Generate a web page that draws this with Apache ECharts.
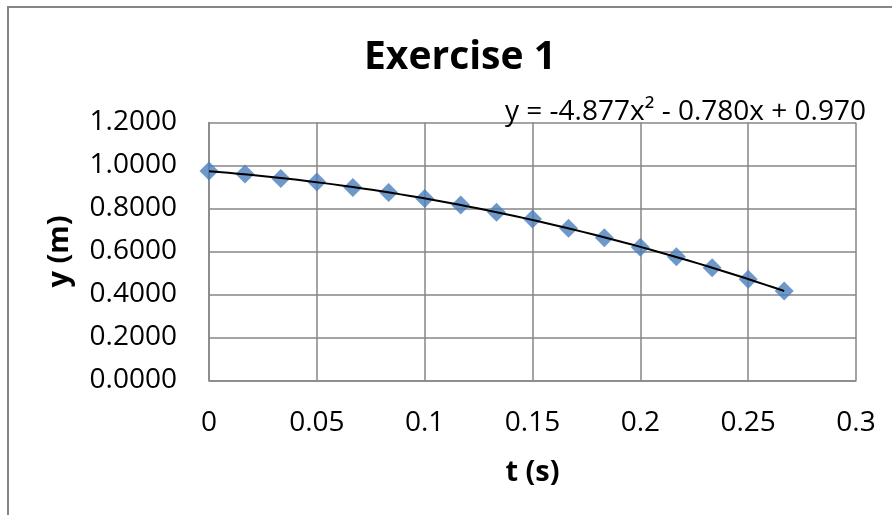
<!DOCTYPE html>
<html>
<head>
<meta charset="utf-8">
<script src="https://cdn.jsdelivr.net/npm/echarts@6/dist/echarts.min.js"></script>
<style>
html,body{margin:0;padding:0;background:#fff;}
#c{width:892px;height:515px;}
</style>
</head>
<body>
<div id="c"></div>
<script>
const titleText = 'Exercise 1';
const xName = 't (s)';
const yName = 'y (m)';
const equationText = 'y = -4.877x² - 0.780x + 0.970';
const tValues = [0, 0.0167, 0.0333, 0.05, 0.0667, 0.0833, 0.1, 0.1167, 0.1333, 0.15, 0.1667, 0.1833, 0.2, 0.2167, 0.2333, 0.25, 0.2667];
const yValues = [0.974, 0.960, 0.940, 0.923, 0.898, 0.874, 0.847, 0.816, 0.782, 0.751, 0.708, 0.664, 0.620, 0.576, 0.525, 0.471, 0.416];

// least-squares quadratic fit of the data (trendline)
function quadFit(xs, ys) {
  let s = [0,0,0,0,0], t = [0,0,0];
  for (let i = 0; i < xs.length; i++) {
    let p = 1;
    for (let k = 0; k < 5; k++) { s[k] += p; if (k < 3) t[k] += p * ys[i]; p *= xs[i]; }
  }
  const A = [[s[0], s[1], s[2], t[0]], [s[1], s[2], s[3], t[1]], [s[2], s[3], s[4], t[2]]];
  for (let i = 0; i < 3; i++) {
    for (let j = i + 1; j < 3; j++) {
      const f = A[j][i] / A[i][i];
      for (let k = i; k < 4; k++) A[j][k] -= f * A[i][k];
    }
  }
  const c = [0,0,0];
  for (let i = 2; i >= 0; i--) {
    let v = A[i][3];
    for (let k = i + 1; k < 3; k++) v -= A[i][k] * c[k];
    c[i] = v / A[i][i];
  }
  return c;
}
const coef = quadFit(tValues, yValues);
const trend = [];
const tMax = tValues[tValues.length - 1];
for (let i = 0; i <= 60; i++) {
  const x = tMax * i / 60;
  trend.push([x, coef[0] + coef[1] * x + coef[2] * x * x]);
}

const FONT = 'Open Sans';
const chart = echarts.init(document.getElementById('c'));
chart.setOption({
  animation: false,
  backgroundColor: '#fff',
  title: [{
    text: titleText,
    left: 359, top: 33,
    textStyle: { fontFamily: FONT, fontSize: 39, fontWeight: 'bold', color: '#000' }
  }, {
    text: equationText,
    left: 500, top: 93,
    textStyle: { fontFamily: FONT, fontSize: 28, fontWeight: 'normal', color: '#000' }
  }],
  graphic: [{
    type: 'rect',
    shape: { x: 8, y: 7, width: 1000, height: 1000 },
    style: { fill: 'none', stroke: '#868686', lineWidth: 2 },
    silent: true
  }],
  grid: { left: 209, right: 36, top: 122.5, bottom: 134.5 },
  xAxis: {
    type: 'value', min: 0, max: 0.3, interval: 0.05,
    name: xName, nameLocation: 'middle', nameGap: 78,
    nameTextStyle: { fontFamily: FONT, fontSize: 29, fontWeight: 'bold', color: '#000' },
    axisLine: { show: true, lineStyle: { color: '#868686', width: 1.5 } },
    axisTick: { show: false },
    axisLabel: { margin: 29, fontFamily: FONT, fontSize: 28, color: '#000' },
    splitLine: { show: true, lineStyle: { color: '#868686', width: 1.5 } }
  },
  yAxis: {
    type: 'value', min: 0, max: 1.2, interval: 0.2,
    name: yName, nameLocation: 'middle', nameGap: 135, nameRotate: 90,
    nameTextStyle: { fontFamily: FONT, fontSize: 29, fontWeight: 'bold', color: '#000' },
    axisLine: { show: true, lineStyle: { color: '#868686', width: 1.5 } },
    axisTick: { show: false },
    axisLabel: { margin: 32, fontFamily: FONT, fontSize: 28, color: '#000', formatter: v => v.toFixed(4) },
    splitLine: { show: true, lineStyle: { color: '#868686', width: 1.5 } }
  },
  series: [{
    type: 'scatter',
    data: tValues.map((t, i) => [t, yValues[i]]),
    symbol: 'diamond', symbolSize: 19,
    itemStyle: { color: '#4a7ebb' },
    z: 2
  }, {
    type: 'line',
    data: trend,
    showSymbol: false, symbol: 'none',
    lineStyle: { color: '#000', width: 2 },
    z: 3
  }]
});
</script>
</body>
</html>
